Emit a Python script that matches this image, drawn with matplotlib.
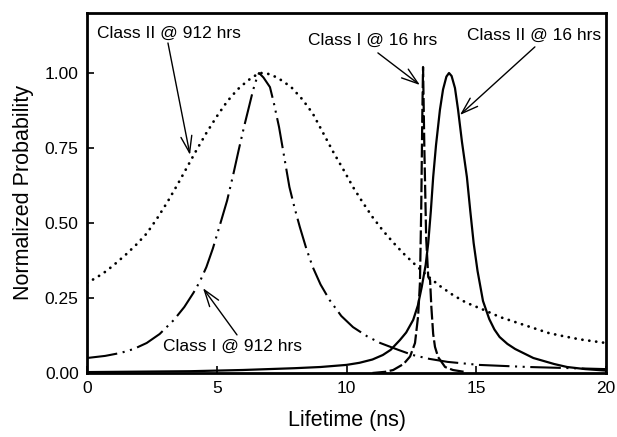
import matplotlib
matplotlib.use("Agg")
import matplotlib.pyplot as plt

plt.rcParams['font.family'] = ['Liberation Sans', 'DejaVu Sans']
plt.rcParams['lines.scale_dashes'] = False

# Class II @ 912 hrs (dotted)
c2_912_x = [0, 0.4, 0.75, 1.1, 1.5, 1.9, 2.3, 2.7, 3.1, 3.5, 3.85, 4.2, 4.6, 5.0,
            5.4, 5.8, 6.2, 6.45, 6.7, 6.95, 7.2, 7.55, 7.9, 8.3, 8.7, 9.1, 9.5,
            9.9, 10.25, 10.6, 11.0, 11.4, 11.8, 12.2, 12.6, 13.1, 13.6, 14.1,
            14.6, 15.3, 15.9, 16.6, 17.2, 17.8, 18.4, 19.0, 20.0]
c2_912_y = [0.30, 0.32, 0.34, 0.365, 0.395, 0.428, 0.465, 0.515, 0.57, 0.63,
            0.685, 0.74, 0.80, 0.855, 0.905, 0.945, 0.975, 0.99, 1.0, 0.998,
            0.99, 0.973, 0.95, 0.912, 0.865, 0.80, 0.735, 0.675, 0.62, 0.572,
            0.52, 0.475, 0.435, 0.398, 0.365, 0.325, 0.29, 0.26, 0.235, 0.21,
            0.187, 0.167, 0.15, 0.133, 0.122, 0.112, 0.10]

# Class I @ 912 hrs (dash-dot-dot)
c1_912_x = [0, 0.7, 1.3, 1.8, 2.3, 2.8, 3.35, 3.75, 4.1, 4.35, 4.6, 4.85, 5.1,
            5.4, 5.65, 5.85, 6.05, 6.25, 6.4, 6.55, 6.63, 6.8, 7.05, 7.2, 7.4,
            7.6, 7.8, 8.0, 8.2, 8.45, 8.7, 9.0, 9.35, 9.8, 10.25, 10.8, 11.3,
            12.0, 12.55, 13.2, 13.9, 15.1, 17.0, 20.0]
c1_912_y = [0.05, 0.057, 0.067, 0.08, 0.10, 0.13, 0.177, 0.22, 0.267, 0.305,
            0.353, 0.415, 0.487, 0.575, 0.667, 0.745, 0.82, 0.89, 0.943, 0.985,
            1.0, 0.985, 0.953, 0.90, 0.82, 0.72, 0.62, 0.55, 0.487, 0.415,
            0.353, 0.295, 0.243, 0.19, 0.153, 0.122, 0.10, 0.077, 0.06, 0.047,
            0.037, 0.027, 0.02, 0.013]

# Class II @ 16 hrs (solid)
c2_16_x = [0, 4, 6, 8, 9, 10, 10.5, 11, 11.4, 11.7, 12.06, 12.3, 12.57, 12.75,
           12.9, 13.05, 13.15, 13.25, 13.34, 13.45, 13.6, 13.72, 13.85, 13.95,
           14.05, 14.18, 14.3, 14.45, 14.64, 14.77, 14.9, 15.05, 15.26, 15.5,
           15.7, 15.9, 16.2, 16.5, 17.2, 18.0, 18.5, 19.2, 20.0]
c2_16_y = [0.003, 0.006, 0.01, 0.016, 0.02, 0.027, 0.034, 0.045, 0.06, 0.077,
           0.11, 0.135, 0.177, 0.225, 0.287, 0.36, 0.433, 0.54, 0.653, 0.76,
           0.877, 0.945, 0.988, 1.0, 0.99, 0.95, 0.877, 0.77, 0.653, 0.54,
           0.433, 0.34, 0.24, 0.18, 0.145, 0.12, 0.097, 0.08, 0.05, 0.03, 0.02,
           0.013, 0.008]

# Class I @ 16 hrs (dashed)
c1_16_x = [11.0, 11.5, 11.8, 12.2, 12.45, 12.64, 12.76, 12.83, 12.88, 12.92,
           12.95, 13.0, 13.07, 13.15, 13.22, 13.27, 13.34, 13.41, 13.53, 13.8,
           14.1, 14.6]
c1_16_y = [0.0, 0.004, 0.01, 0.03, 0.055, 0.10, 0.19, 0.30, 0.55, 0.85, 1.02,
           0.75, 0.45, 0.32, 0.31, 0.22, 0.13, 0.087, 0.053, 0.02, 0.01, 0.003]

x_ticks = [0, 5, 10, 15, 20]
y_ticks = [0.00, 0.25, 0.50, 0.75, 1.00]
y_tick_labels = ['0.00', '0.25', '0.50', '0.75', '1.00']

fig = plt.figure(figsize=(6.17, 4.37), dpi=100)
ax = fig.add_axes([87 / 617, 1 - 373 / 437, (606 - 87) / 617, (373 - 13) / 437])

ax.plot(c2_912_x, c2_912_y, color='black', lw=2.0, linestyle=(0, (0.1, 4.9)),
        dash_capstyle='round')
ax.plot(c1_912_x, c1_912_y, color='black', lw=1.5,
        linestyle=(0, (22, 4, 1.5, 4, 1.5, 4)))
ax.plot(c2_16_x, c2_16_y, color='black', lw=1.6, linestyle='-')
ax.plot(c1_16_x, c1_16_y, color='black', lw=1.6, linestyle=(0, (10, 2.5)))

ax.set_xlim(0, 20)
ax.set_ylim(0, 1.2)
ax.set_xticks(x_ticks)
ax.set_yticks(y_ticks)
ax.set_yticklabels(y_tick_labels)
ax.tick_params(direction='in', length=5, width=1.2, labelsize=12.5, pad=6)
for s in ax.spines.values():
    s.set_linewidth(2.0)

ax.set_xlabel('Lifetime (ns)', fontsize=15.5, labelpad=10)
ax.set_ylabel('Normalized Probability', fontsize=15.5, labelpad=8)

aprops = dict(arrowstyle='->,head_length=1.0,head_width=0.33', color='black',
              lw=1.0, shrinkA=0, shrinkB=0, mutation_scale=12)
tfs = 12.5
ax.annotate('', xy=(3.97, 0.727), xytext=(3.12, 1.10), arrowprops=aprops)
ax.text(0.39, 1.133, 'Class II @ 912 hrs', fontsize=tfs, ha='left', va='center')

ax.annotate('', xy=(12.83, 0.96), xytext=(11.21, 1.067), arrowprops=aprops)
ax.text(8.52, 1.11, 'Class I @ 16 hrs', fontsize=tfs, ha='left', va='center')

ax.annotate('', xy=(14.37, 0.86), xytext=(17.26, 1.087), arrowprops=aprops)
ax.text(14.64, 1.127, 'Class II @ 16 hrs', fontsize=tfs, ha='left', va='center')

ax.annotate('', xy=(4.47, 0.283), xytext=(5.78, 0.127), arrowprops=aprops)
ax.text(2.93, 0.09, 'Class I @ 912 hrs', fontsize=tfs, ha='left', va='center')

fig.savefig('out.png', dpi=100)
